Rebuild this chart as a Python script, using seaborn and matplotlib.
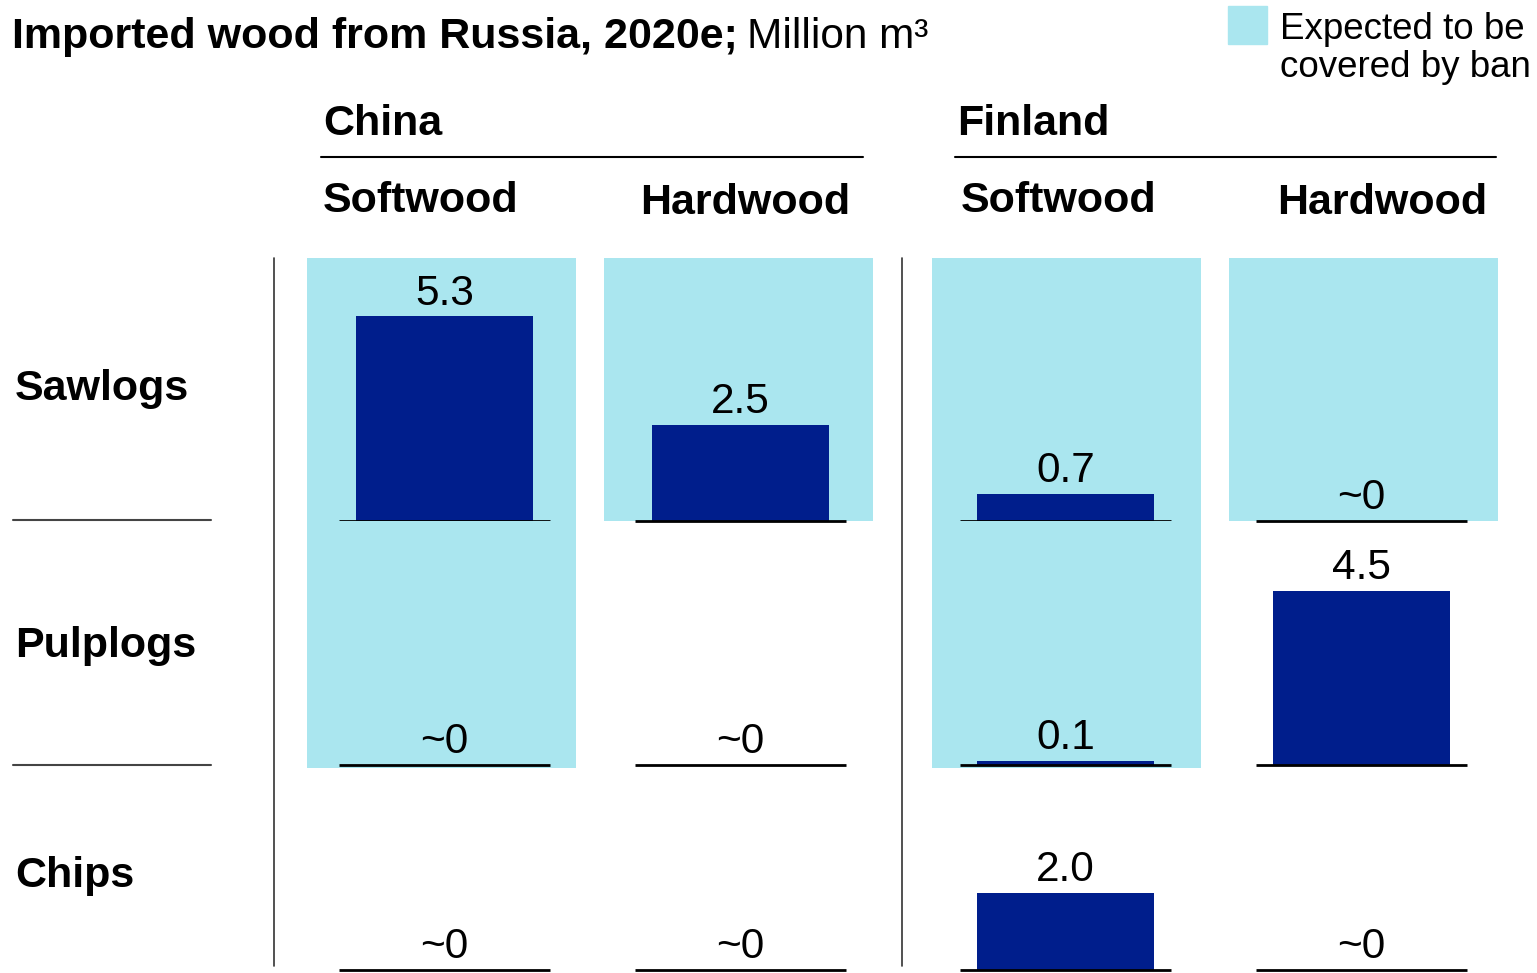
import matplotlib
matplotlib.use("Agg")
import matplotlib.pyplot as plt
import seaborn as sns
import pandas as pd

# data
products = ["Sawlogs", "Pulplogs", "Chips"]
origins = ["China", "Finland"]
wood_types = ["Softwood", "Hardwood", "Softwood", "Hardwood"]
china_soft = [5.3, 0.0, 0.0]
china_hard = [2.5, 0.0, 0.0]
finland_soft = [0.7, 0.1, 2.0]
finland_hard = [0.0, 4.5, 0.0]
ban_china_soft = [True, True, False]
ban_china_hard = [True, False, False]
ban_finland_soft = [True, True, False]
ban_finland_hard = [True, False, False]

values = [china_soft, china_hard, finland_soft, finland_hard]
bans = [ban_china_soft, ban_china_hard, ban_finland_soft, ban_finland_hard]

NAVY = "#001E8C"
CYAN = "#AAE6EF"

sns.set_style("white")
plt.rcParams["font.family"] = ["Liberation Sans", "DejaVu Sans"]
plt.rcParams["text.color"] = "black"

W, H = 1537, 973
fig = plt.figure(figsize=(W / 100, H / 100), dpi=100)


def fx(x):
    return x / W


def fy(y):
    return 1 - y / H


PX_PER_UNIT = 38.6
col_left = [307, 604, 932, 1229]
col_w = 269
bar_shift = [0.011, 0.007, -0.004, -0.007]  # bar centre offset inside shaded cell
# (top, bottom, baseline) in pixels
rows = [(258, 521, 521), (521, 768, 765), (768, 973, 970)]

for c in range(4):
    for r, prod in enumerate(products):
        top, bot, base = rows[r]
        ax = fig.add_axes([fx(col_left[c]), fy(bot), col_w / W, (bot - top) / H])
        v = values[c][r]
        df = pd.DataFrame({"cat": [prod], "val": [v]})
        sns.barplot(data=df, x="cat", y="val", color=NAVY, width=0.658,
                    saturation=1, linewidth=0, edgecolor="none", ax=ax)
        ax.set_xlim(-0.5 - bar_shift[c], 0.5 - bar_shift[c])
        ax.set_ylim(-(bot - base) / PX_PER_UNIT, (base - top) / PX_PER_UNIT)
        ax.set_facecolor(CYAN if bans[c][r] else "none")
        for s in ax.spines.values():
            s.set_visible(False)
        ax.set_xticks([])
        ax.set_yticks([])
        ax.set_xlabel("")
        ax.set_ylabel("")
        ax.plot([-0.392, 0.392], [0, 0], color="black", lw=2, clip_on=False,
                solid_capstyle="butt")
        label = "~0" if v == 0 else f"{v:.1f}"
        ax.annotate(label, (0, v), xytext=(0, 8.5), textcoords="offset points",
                    ha="center", va="baseline", fontsize=30.5, color="black",
                    annotation_clip=False)

# title
t1 = fig.text(fx(12), fy(48), "Imported wood from Russia, 2020e;", fontsize=31,
              fontweight="bold", va="baseline", ha="left")
fig.canvas.draw()
bb = t1.get_window_extent()
fig.text((bb.x1 + 9) / W, fy(48), "Million m\u00b3", fontsize=30.5,
         va="baseline", ha="left")

# legend
fig.patches.append(plt.Rectangle((fx(1228), fy(44)), 39 / W, 38 / H,
                                 transform=fig.transFigure, color=CYAN))
fig.text(fx(1280), fy(39), "Expected to be", fontsize=26.5, va="baseline")
fig.text(fx(1280), fy(77), "covered by ban", fontsize=26.5, va="baseline")

# group headers
for name, x0, x1 in [("China", 321, 863), ("Finland", 955, 1496)]:
    fig.text(fx(x0 + 2), fy(135), name, fontsize=31, fontweight="bold", va="baseline")
    fig.add_artist(plt.Line2D([fx(x0), fx(x1)], [fy(157), fy(157)],
                              color="black", lw=1.5))

for name, x, y in zip(wood_types, [323, 640, 961, 1277], [212, 214, 212, 214]):
    fig.text(fx(x), fy(y), name, fontsize=31, fontweight="bold", va="baseline")

# row labels
for name, y in zip(products, [400, 657, 887]):
    fig.text(fx(15), fy(y), name, fontsize=31, fontweight="bold", va="baseline")

for y in [520, 765]:
    fig.add_artist(plt.Line2D([fx(13), fx(211)], [fy(y), fy(y)],
                              color="#444444", lw=1.5))

for x in [274, 902]:
    fig.add_artist(plt.Line2D([fx(x), fx(x)], [fy(258), fy(966)],
                              color="#333333", lw=1.2))

fig.savefig("out.png", dpi=100)
